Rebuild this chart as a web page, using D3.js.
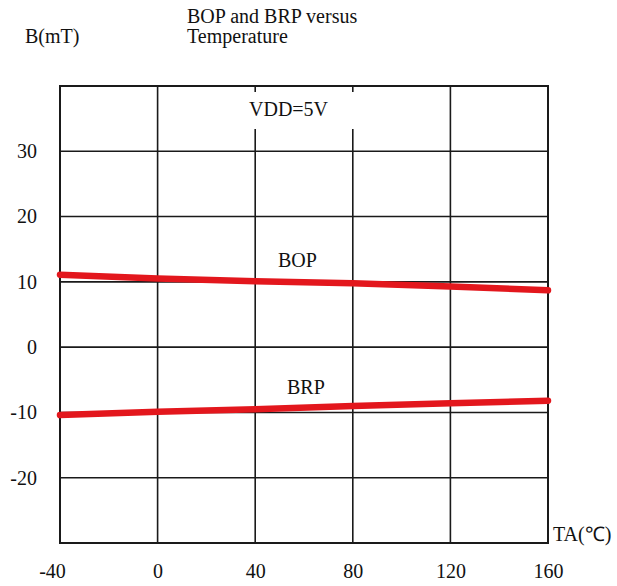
<!DOCTYPE html>
<html>
<head>
<meta charset="utf-8">
<script src="https://cdn.jsdelivr.net/npm/d3@7"></script>
<style>
  html, body { margin: 0; padding: 0; background: #fff; }
  svg { display: block; }
  svg text { font-family: 'Liberation Serif', serif !important; }
</style>
</head>
<body>
<svg id="chart" width="617" height="586"></svg>
<script>
// Temperature ticks (°C) and field ticks (mT)
const tempTicks = [-40, 0, 40, 80, 120, 160];
const fieldTicks = [-20, -10, 0, 10, 20, 30];

// Measured operate / release points across temperature
const temps = [-40, 0, 40, 80, 120, 160];
const bop = [11.1, 10.5, 10.1, 9.8, 9.3, 8.7];
const brp = [-10.4, -9.9, -9.5, -9.0, -8.6, -8.2];

const svg = d3.select("#chart");
const plotL = 60, plotR = 548, plotT = 86, plotB = 543;

const x = d3.scaleLinear().domain([-40, 160]).range([plotL, plotR]);
const y = d3.scaleLinear().domain([-30, 40]).range([plotB, plotT]);

const FONT = "Liberation Serif";
const FS = 20;

// Grid lines
const grid = svg.append("g").attr("stroke", "#1a1a1a").attr("stroke-width", 1.6);
fieldTicks.forEach(v => {
  grid.append("line").attr("x1", plotL).attr("x2", plotR)
    .attr("y1", y(v)).attr("y2", y(v));
});
[0, 120].forEach(v => {
  grid.append("line").attr("x1", x(v)).attr("x2", x(v))
    .attr("y1", plotT).attr("y2", plotB);
});
// The 40 and 80 verticals leave room for the supply label near the top
[40, 80].forEach(v => {
  grid.append("line").attr("x1", x(v)).attr("x2", x(v))
    .attr("y1", plotT).attr("y2", plotT + 6);
  grid.append("line").attr("x1", x(v)).attr("x2", x(v))
    .attr("y1", plotT + 43).attr("y2", plotB);
});

// Plot frame
svg.append("rect")
  .attr("x", plotL).attr("y", plotT)
  .attr("width", plotR - plotL).attr("height", plotB - plotT)
  .attr("fill", "none").attr("stroke", "#1a1a1a").attr("stroke-width", 2);

// Axes (labels only)
const fmt = d => String(d);
const xAxis = svg.append("g")
  .attr("transform", `translate(0,${plotB})`)
  .call(d3.axisBottom(x).tickValues(tempTicks).tickSize(0).tickPadding(21).tickFormat(fmt));
const yAxis = svg.append("g")
  .attr("transform", `translate(${plotL},0)`)
  .call(d3.axisLeft(y).tickValues(fieldTicks).tickSize(0).tickPadding(23).tickFormat(fmt));
[xAxis, yAxis].forEach(a => {
  a.attr("font-family", FONT).attr("font-size", FS);
  a.select(".domain").remove();
  a.selectAll("text").attr("fill", "#111");
});
// the leading "-40" sits a little left of its gridline
xAxis.selectAll(".tick text").filter(d => d === -40).attr("dx", -8);

// Curves
const line = d3.line().x((d, i) => x(temps[i])).y(d => y(d));
[bop, brp].forEach(series => {
  svg.append("path")
    .datum(series)
    .attr("d", line)
    .attr("fill", "none")
    .attr("stroke", "#e3171d")
    .attr("stroke-width", 6.5)
    .attr("stroke-linecap", "round");
});

// Labels
function label(txt, px, py) {
  svg.append("text")
    .attr("x", px).attr("y", py)
    .attr("font-family", FONT)
    .attr("font-size", FS)
    .attr("fill", "#111")
    .text(txt);
}
label("BOP and BRP versus", 187, 23);
label("Temperature", 187, 43);
label("B(mT)", 25, 43);
label("VDD=5V", 249, 116);
label("BOP", 278, 267);
label("BRP", 287, 394);
label("TA(℃)", 553, 541);
</script>
</body>
</html>
